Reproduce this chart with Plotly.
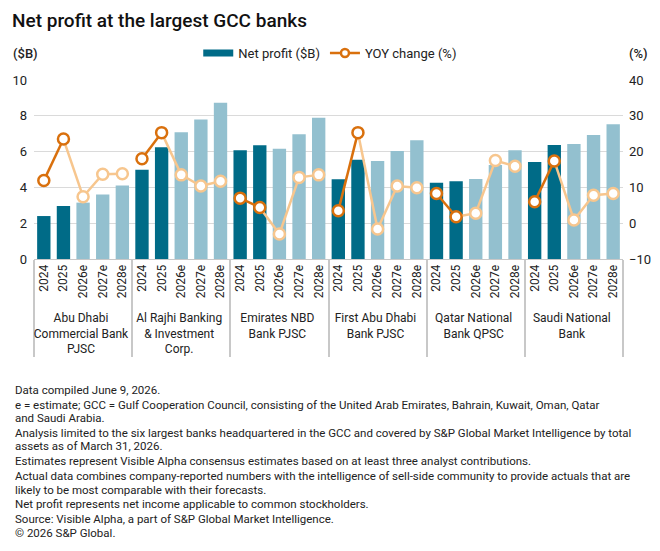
import plotly.graph_objects as go

# ---------------- data ----------------
banks = [
    "Abu Dhabi<br>Commercial Bank<br>PJSC",
    "Al Rajhi Banking<br>& Investment<br>Corp.",
    "Emirates NBD<br>Bank PJSC",
    "First Abu Dhabi<br>Bank PJSC",
    "Qatar National<br>Bank QPSC",
    "Saudi National<br>Bank",
]
years = ["2024", "2025", "2026e", "2027e", "2028e"]
is_actual = [True, True, False, False, False]

net_profit = {
    banks[0]: [2.40, 2.96, 3.15, 3.61, 4.10],
    banks[1]: [4.99, 6.24, 7.08, 7.80, 8.73],
    banks[2]: [6.07, 6.35, 6.16, 6.97, 7.89],
    banks[3]: [4.45, 5.54, 5.47, 6.03, 6.63],
    banks[4]: [4.26, 4.34, 4.47, 5.25, 6.07],
    banks[5]: [5.42, 6.37, 6.42, 6.93, 7.53],
}
yoy_change = {
    banks[0]: [11.9, 23.5, 7.4, 13.7, 13.8],
    banks[1]: [18.0, 25.3, 13.5, 10.4, 11.7],
    banks[2]: [7.0, 4.4, -3.0, 12.8, 13.5],
    banks[3]: [3.5, 25.3, -1.6, 10.4, 9.9],
    banks[4]: [8.3, 1.8, 2.8, 17.5, 15.9],
    banks[5]: [6.0, 17.4, 0.9, 7.8, 8.3],
}

title_text = "Net profit at the largest GCC banks"
footnote_lines = [
    "Data compiled June 9, 2026.",
    "e = estimate; GCC = Gulf Cooperation Council, consisting of the United Arab Emirates, Bahrain, Kuwait, Oman, Qatar",
    "and Saudi Arabia.",
    "Analysis limited to the six largest banks headquartered in the GCC and covered by S&P Global Market Intelligence by total",
    "assets as of March 31, 2026.",
    "Estimates represent Visible Alpha consensus estimates based on at least three analyst contributions.",
    "Actual data combines company-reported numbers with the intelligence of sell-side community to provide actuals that are",
    "likely to be most comparable with their forecasts.",
    "Net profit represents net income applicable to common stockholders.",
    "Source: Visible Alpha, a part of S&P Global Market Intelligence.",
    "\u00a9 2026 S&P Global.",
]

# ---------------- style ----------------
DARK_BAR = "#006B87"
LIGHT_BAR = "#93C0CF"
DARK_LINE = "#D9700D"
LIGHT_LINE = "#F7C68E"
GRID = "#DADADA"
FONT = "Roboto"
TXT = "#222222"

W, H = 660, 551
L, R, T, B = 33.5, 623, 80, 259  # plot area in px
FOOT_Y = [390, 404.5, 417.5, 433, 446, 461, 475.5, 489.5, 504.5, 518.5, 533]


def px_x(px):
    return (px - L) / (R - L)


def px_y(py):
    return (B - py) / (B - T)


fig = go.Figure()

# bars
bx0, bx1, by, bc = [], [], [], []
for b in banks:
    for i, yr in enumerate(years):
        bx0.append(b)
        bx1.append(yr)
        by.append(net_profit[b][i])
        bc.append(DARK_BAR if is_actual[i] else LIGHT_BAR)
fig.add_trace(go.Bar(x=[bx0, bx1], y=by, marker=dict(color=bc, line_width=0),
                     width=0.68, showlegend=False, hoverinfo="skip"))

# yoy lines
act_idx = [i for i, a in enumerate(is_actual) if a]
est_only = [i for i, a in enumerate(is_actual) if not a]
est_idx = [act_idx[-1]] + est_only
for b in banks:
    fig.add_trace(go.Scatter(x=[[b] * len(est_idx), [years[i] for i in est_idx]],
                             y=[yoy_change[b][i] for i in est_idx], yaxis="y2",
                             mode="lines", line=dict(color=LIGHT_LINE, width=2.5),
                             showlegend=False, hoverinfo="skip"))
for b in banks:
    fig.add_trace(go.Scatter(x=[[b] * len(act_idx), [years[i] for i in act_idx]],
                             y=[yoy_change[b][i] for i in act_idx], yaxis="y2",
                             mode="lines", line=dict(color=DARK_LINE, width=2.5),
                             showlegend=False, hoverinfo="skip"))
for b in banks:
    fig.add_trace(go.Scatter(x=[[b] * len(est_only), [years[i] for i in est_only]],
                             y=[yoy_change[b][i] for i in est_only], yaxis="y2",
                             mode="markers",
                             marker=dict(color="white", size=11, line=dict(color=LIGHT_LINE, width=2.5)),
                             showlegend=False, hoverinfo="skip"))
    fig.add_trace(go.Scatter(x=[[b] * len(act_idx), [years[i] for i in act_idx]],
                             y=[yoy_change[b][i] for i in act_idx], yaxis="y2",
                             mode="markers",
                             marker=dict(color="white", size=11, line=dict(color=DARK_LINE, width=2.5)),
                             showlegend=False, hoverinfo="skip"))

# legend entries
fig.add_trace(go.Scatter(x=[[banks[0]], [years[0]]], y=[None], mode="lines",
                         line=dict(color=DARK_BAR, width=7), name="Net profit ($B)"))
fig.add_trace(go.Scatter(x=[[banks[0]], [years[0]]], y=[None], mode="lines+markers", yaxis="y2",
                         line=dict(color=DARK_LINE, width=2.5),
                         marker=dict(color="white", size=8, line=dict(color=DARK_LINE, width=2.5)),
                         name="YOY change (%)"))

annotations = [
    dict(text="($B)", x=px_x(10), y=px_y(53), xref="paper", yref="paper",
         xanchor="left", yanchor="middle", showarrow=False,
         font=dict(family=FONT, size=13, color=TXT, weight=500)),
    dict(text="(%)", x=px_x(650), y=px_y(53), xref="paper", yref="paper",
         xanchor="right", yanchor="middle", showarrow=False,
         font=dict(family=FONT, size=13, color=TXT, weight=500)),
]
for line, yy in zip(footnote_lines, FOOT_Y):
    annotations.append(dict(text=line, x=px_x(12), y=px_y(yy), xref="paper", yref="paper",
                            xanchor="left", yanchor="middle", showarrow=False,
                            font=dict(family=FONT, size=11.5, color=TXT)))

n_cat = len(banks) * len(years)
fig.update_layout(
    width=W, height=H, autosize=False,
    margin=dict(l=L, r=W - R, t=T, b=H - B, pad=0, autoexpand=False),
    paper_bgcolor="white", plot_bgcolor="white",
    font=dict(family=FONT, size=12, color=TXT),
    title=dict(text=title_text, x=12 / W, xanchor="left", xref="container",
               y=1 - 20 / H, yanchor="middle", yref="container",
               font=dict(family=FONT, size=19, color="#111111", weight=500)),
    showlegend=True,
    legend=dict(orientation="h", x=px_x(330), xanchor="center", y=px_y(53), yanchor="middle",
                xref="paper", yref="paper", font=dict(family=FONT, size=13, color=TXT),
                itemwidth=30, tracegroupgap=0, bgcolor="rgba(0,0,0,0)"),
    xaxis=dict(type="multicategory", range=[-0.5, n_cat - 0.5], tickangle=-90, showgrid=False,
               showline=True, automargin=False,
               linecolor="#C8C8C8", linewidth=1, ticks="", dividercolor="#C8C8C8", dividerwidth=1.5,
               tickfont=dict(family=FONT, size=12, color=TXT)),
    yaxis=dict(range=[0, 10], dtick=2, showgrid=True, gridcolor=GRID, gridwidth=1, automargin=False,
               zeroline=False, ticks="", showline=False, ticklabelstandoff=6,
               tickfont=dict(family=FONT, size=13, color=TXT)),
    yaxis2=dict(range=[-10, 40], dtick=10, overlaying="y", side="right", showgrid=False, automargin=False,
                zeroline=False, ticks="", showline=False, ticklabelstandoff=5,
                tickfont=dict(family=FONT, size=13, color=TXT)),
    annotations=annotations,
)

fig.write_html("out.html")
